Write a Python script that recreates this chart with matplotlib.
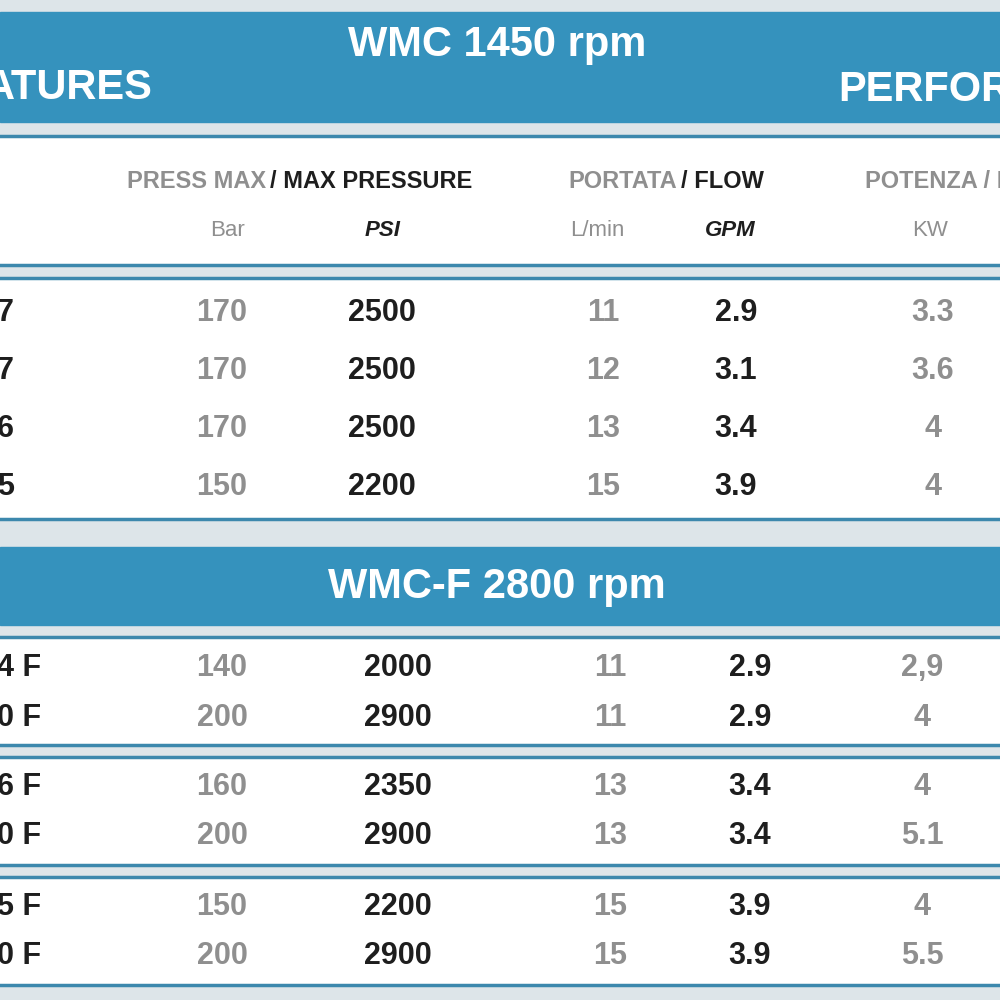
import matplotlib.pyplot as plt
from matplotlib.patches import Rectangle

plt.rcParams['font.family'] = ['Liberation Sans', 'Arimo', 'DejaVu Sans']

# section 1: WMC 1450 rpm
labels1 = ["7", "7", "6", "5"]
bar1 = ["170", "170", "170", "150"]
psi1 = ["2500", "2500", "2500", "2200"]
lmin1 = ["11", "12", "13", "15"]
gpm1 = ["2.9", "3.1", "3.4", "3.9"]
kw1 = ["3.3", "3.6", "4", "4"]

# section 2: WMC-F 2800 rpm
labels2 = ["4 F", "0 F", "6 F", "0 F", "5 F", "0 F"]
bar2 = ["140", "200", "160", "200", "150", "200"]
psi2 = ["2000", "2900", "2350", "2900", "2200", "2900"]
lmin2 = ["11", "11", "13", "13", "15", "15"]
gpm2 = ["2.9", "2.9", "3.4", "3.4", "3.9", "3.9"]
kw2 = ["2,9", "4", "4", "5.1", "4", "5.5"]

BLUE = "#3592bd"
LINE = "#3c88ad"
GREY = "#8f8f8f"
DARK = "#1e1e1e"

fig = plt.figure(figsize=(10, 10), dpi=100)
fig.patch.set_facecolor("#dde5e9")
ax = fig.add_axes([0, 0, 1, 1])
ax.set_xlim(0, 1000)
ax.set_ylim(1000, 0)
ax.axis("off")


def band(y0, y1):
    ax.add_patch(Rectangle((0, y0), 1000, y1 - y0, color=BLUE, zorder=1))


def panel(y0, y1):
    ax.add_patch(Rectangle((0, y0), 1000, y1 - y0, color="white", zorder=1))
    ax.plot([0, 1000], [y0, y0], color=LINE, lw=2.5, zorder=2)
    ax.plot([0, 1000], [y1, y1], color=LINE, lw=2.5, zorder=2)


band(12, 122)
panel(136, 265)
panel(278, 519)
band(547, 625)
panel(637, 745)
panel(757, 865)
panel(877, 985)

# titles
ax.text(497, 45, "WMC 1450 rpm", color="white", fontsize=30, fontweight="bold",
        ha="center", va="center", zorder=3)
ax.text(153, 88, "ATURES", color="white", fontsize=30, fontweight="bold",
        ha="right", va="center", zorder=3)
ax.text(838, 90, "PERFORMANCE", color="white", fontsize=30, fontweight="bold",
        ha="left", va="center", zorder=3, clip_on=True)
ax.text(497, 587, "WMC-F 2800 rpm", color="white", fontsize=30, fontweight="bold",
        ha="center", va="center", zorder=3)

# header rows
ax.text(266, 181, "PRESS MAX", color=GREY, fontsize=17, fontweight="bold",
        ha="right", va="center", zorder=3)
ax.text(270, 181, "/ MAX PRESSURE", color=DARK, fontsize=17, fontweight="bold",
        ha="left", va="center", zorder=3)
ax.text(677, 181, "PORTATA", color=GREY, fontsize=17, fontweight="bold",
        ha="right", va="center", zorder=3)
ax.text(681, 181, "/ FLOW", color=DARK, fontsize=17, fontweight="bold",
        ha="left", va="center", zorder=3)
ax.text(865, 181, "POTENZA / POWER", color=GREY, fontsize=17, fontweight="bold",
        ha="left", va="center", zorder=3, clip_on=True)
ax.text(228, 230, "Bar", color=GREY, fontsize=16, ha="center", va="center", zorder=3)
ax.text(383, 230, "PSI", color=DARK, fontsize=16, fontweight="bold", style="italic",
        ha="center", va="center", zorder=3)
ax.text(597, 230, "L/min", color=GREY, fontsize=16, ha="center", va="center", zorder=3)
ax.text(730, 230, "GPM", color=DARK, fontsize=16, fontweight="bold", style="italic",
        ha="center", va="center", zorder=3)
ax.text(930, 230, "KW", color=GREY, fontsize=16, ha="center", va="center", zorder=3)


def rows(ys, labels, bars, psis, lmins, gpms, kws, xs):
    for y, lab, b, p, l, g, k in zip(ys, labels, bars, psis, lmins, gpms, kws):
        ax.text(-3, y, lab, color=DARK, fontsize=22, fontweight="bold",
                ha="left", va="center", zorder=3)
        ax.text(xs[0], y, b, color=GREY, fontsize=22, fontweight="bold",
                ha="center", va="center", zorder=3)
        ax.text(xs[1], y, p, color=DARK, fontsize=22, fontweight="bold",
                ha="center", va="center", zorder=3)
        ax.text(xs[2], y, l, color=GREY, fontsize=22, fontweight="bold",
                ha="center", va="center", zorder=3)
        ax.text(xs[3], y, g, color=DARK, fontsize=22, fontweight="bold",
                ha="center", va="center", zorder=3)
        ax.text(xs[4], y, k, color=GREY, fontsize=22, fontweight="bold",
                ha="center", va="center", zorder=3)


rows([313, 371, 429, 487], labels1, bar1, psi1, lmin1, gpm1, kw1,
     [222, 382, 603, 736, 933])
rows([668, 718, 787, 836, 907, 956], labels2, bar2, psi2, lmin2, gpm2, kw2,
     [222, 398, 610, 750, 922])

fig.savefig("out.png", dpi=100, facecolor=fig.get_facecolor())
